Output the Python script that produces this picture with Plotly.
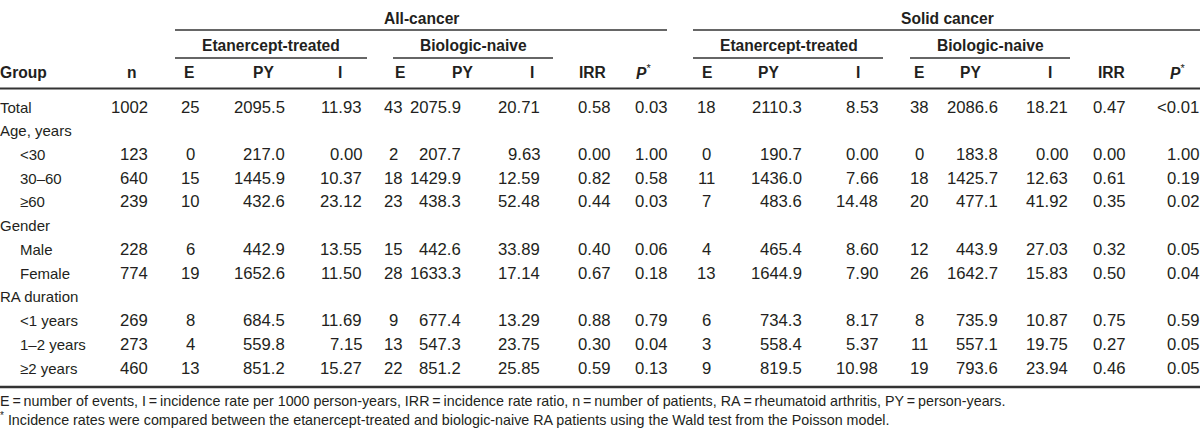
import plotly.graph_objects as go

# ---------------- data ----------------
groups = ["Total", "Age, years", "<30", "30–60", "≥60", "Gender", "Male", "Female",
          "RA duration", "<1 years", "1–2 years", "≥2 years"]
indented = [False, False, True, True, True, False, True, True, False, True, True, True]

n_patients = [1002, None, 123, 640, 239, None, 228, 774, None, 269, 273, 460]

# All-cancer
all_et_E = [25, None, 0, 15, 10, None, 6, 19, None, 8, 4, 13]
all_et_PY = [2095.5, None, 217.0, 1445.9, 432.6, None, 442.9, 1652.6, None, 684.5, 559.8, 851.2]
all_et_I = [11.93, None, 0.00, 10.37, 23.12, None, 13.55, 11.50, None, 11.69, 7.15, 15.27]
all_bn_E = [43, None, 2, 18, 23, None, 15, 28, None, 9, 13, 22]
all_bn_PY = [2075.9, None, 207.7, 1429.9, 438.3, None, 442.6, 1633.3, None, 677.4, 547.3, 851.2]
all_bn_I = [20.71, None, 9.63, 12.59, 52.48, None, 33.89, 17.14, None, 13.29, 23.75, 25.85]
all_IRR = [0.58, None, 0.00, 0.82, 0.44, None, 0.40, 0.67, None, 0.88, 0.30, 0.59]
all_P = ["0.03", None, "1.00", "0.58", "0.03", None, "0.06", "0.18", None, "0.79", "0.04", "0.13"]

# Solid cancer
sol_et_E = [18, None, 0, 11, 7, None, 4, 13, None, 6, 3, 9]
sol_et_PY = [2110.3, None, 190.7, 1436.0, 483.6, None, 465.4, 1644.9, None, 734.3, 558.4, 819.5]
sol_et_I = [8.53, None, 0.00, 7.66, 14.48, None, 8.60, 7.90, None, 8.17, 5.37, 10.98]
sol_bn_E = [38, None, 0, 18, 20, None, 12, 26, None, 8, 11, 19]
sol_bn_PY = [2086.6, None, 183.8, 1425.7, 477.1, None, 443.9, 1642.7, None, 735.9, 557.1, 793.6]
sol_bn_I = [18.21, None, 0.00, 12.63, 41.92, None, 27.03, 15.83, None, 10.87, 19.75, 23.94]
sol_IRR = [0.47, None, 0.00, 0.61, 0.35, None, 0.32, 0.50, None, 0.75, 0.27, 0.46]
sol_P = ["<0.01", None, "1.00", "0.19", "0.02", None, "0.05", "0.04", None, "0.59", "0.05", "0.05"]

col_headers = ["n", "E", "PY", "I", "E", "PY", "I", "IRR", "P",
               "E", "PY", "I", "E", "PY", "I", "IRR", "P"]
spanners = ["Etanercept-treated", "Biologic-naive", "Etanercept-treated", "Biologic-naive"]
top_headers = ["All-cancer", "Solid cancer"]

footnotes = [
    "E\u2009=\u2009number of events, I\u2009=\u2009incidence rate per 1000 person-years, "
    "IRR\u2009=\u2009incidence rate ratio, n\u2009=\u2009number of patients, "
    "RA\u2009=\u2009rheumatoid arthritis, PY\u2009=\u2009person-years.",
    "<sup>*</sup> Incidence rates were compared between the etanercept-treated and "
    "biologic-naive RA patients using the Wald test from the Poisson model.",
]

# ---------------- layout / styling ----------------
W, H = 1200, 436
FONT = "Liberation Sans, Arial, Helvetica, sans-serif"
TXT = "#231f20"
FS_NUM = 16.7
FS_LABEL = 15
FS_HEAD = 15.6
FS_NOTE = 14.3
ROW0_Y = 107
ROW_PITCH = 23.73

# (values, x position, anchor, format)
columns = [
    (n_patients, 148, "right", "{:d}"),
    (all_et_E, 190, "center", "{:d}"),
    (all_et_PY, 285, "right", "{:.1f}"),
    (all_et_I, 362, "right", "{:.2f}"),
    (all_bn_E, 393, "center", "{:d}"),
    (all_bn_PY, 461, "right", "{:.1f}"),
    (all_bn_I, 540, "right", "{:.2f}"),
    (all_IRR, 610, "right", "{:.2f}"),
    (all_P, 667, "right", "{}"),
    (sol_et_E, 706, "center", "{:d}"),
    (sol_et_PY, 802, "right", "{:.1f}"),
    (sol_et_I, 878, "right", "{:.2f}"),
    (sol_bn_E, 919, "center", "{:d}"),
    (sol_bn_PY, 998, "right", "{:.1f}"),
    (sol_bn_I, 1068, "right", "{:.2f}"),
    (sol_IRR, 1125, "right", "{:.2f}"),
    (sol_P, 1199, "right", "{}"),
]
header_x = [132, 189, 263, 340, 400, 462, 532, 592, 643,
            707, 768, 858, 919, 970, 1050, 1111, 1177]
spanner_x = [271, 473, 789, 990]
spanner_lines = [(175, 367), (393, 553), (693, 883), (910, 1070)]
top_x = [421, 947]
top_lines = [(175, 667), (693, 1200)]

annotations = []


def add_text(x, y, text, anchor="center", size=FS_NUM, bold=False):
    if bold:
        text = "<b>" + text + "</b>"
    annotations.append(dict(
        x=x, y=y, xref="x", yref="y", text=text, showarrow=False,
        xanchor=anchor, yanchor="middle", borderpad=0, borderwidth=0,
        font=dict(family=FONT, size=size, color=TXT),
    ))


# top headers
for label, x in zip(top_headers, top_x):
    add_text(x, 18, label, size=FS_HEAD, bold=True)
# spanners
for label, x in zip(spanners, spanner_x):
    add_text(x, 45, label, size=FS_HEAD, bold=True)
# column headers
add_text(0, 72, "Group", anchor="left", size=FS_HEAD, bold=True)
for label, x in zip(col_headers, header_x):
    if label == "P":
        add_text(x, 72, "<b><i>P</i></b><sup>*</sup>", size=FS_HEAD)
    else:
        add_text(x, 72, label, size=FS_HEAD, bold=True)

# body
for i, g in enumerate(groups):
    y = ROW0_Y + i * ROW_PITCH
    add_text(20 if indented[i] else 0, y, g, anchor="left", size=FS_LABEL)
    for vals, x, anchor, fmt in columns:
        v = vals[i]
        if v is None:
            continue
        add_text(x, y, fmt.format(v), anchor=anchor, size=FS_NUM)

# footnotes
add_text(0, 401, footnotes[0], anchor="left", size=FS_NOTE)
add_text(0, 419, footnotes[1], anchor="left", size=FS_NOTE)

shapes = []
LINE = "#333333"
for x0, x1 in top_lines:
    shapes.append(dict(type="line", xref="x", yref="y", x0=x0, x1=x1, y0=30, y1=30,
                       line=dict(color=LINE, width=1.3)))
for x0, x1 in spanner_lines:
    shapes.append(dict(type="line", xref="x", yref="y", x0=x0, x1=x1, y0=58, y1=58,
                       line=dict(color=LINE, width=1.3)))
shapes.append(dict(type="line", xref="x", yref="y", x0=0, x1=1200, y0=88.5, y1=88.5,
                   line=dict(color=LINE, width=2)))
shapes.append(dict(type="line", xref="x", yref="y", x0=0, x1=1200, y0=387, y1=387,
                   line=dict(color=LINE, width=2.5)))

fig = go.Figure()
fig.update_layout(
    width=W, height=H,
    margin=dict(l=0, r=0, t=0, b=0),
    paper_bgcolor="white", plot_bgcolor="white",
    xaxis=dict(range=[0, W], visible=False, fixedrange=True),
    yaxis=dict(range=[H, 0], visible=False, fixedrange=True),
    annotations=annotations, shapes=shapes, showlegend=False,
)
fig.write_html(
    "out.html",
    config={"displayModeBar": False},
    post_script="document.body.style.margin='0';document.body.style.overflow='hidden';",
)
